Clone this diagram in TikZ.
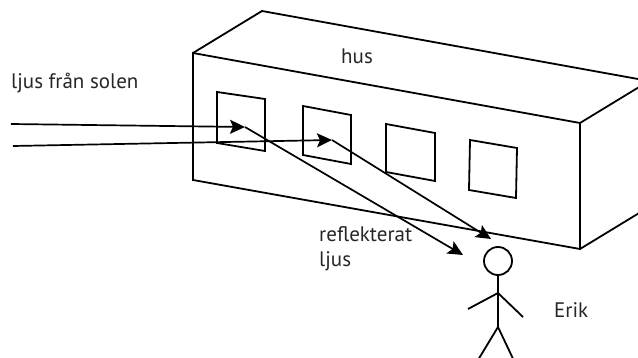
\documentclass[tikz,border=0pt]{standalone}
\usepackage{fontspec}
\setmainfont{PT Sans}
\usepackage{tikz}
\usetikzlibrary{arrows.meta}
\tikzstyle{wall} = [line width=1.8pt, line join=miter]
\tikzstyle{window} = [line width=1.8pt]
\tikzstyle{ray} = [line width=1.7pt, -{Stealth[length=15pt, width=14pt, inset=3pt]}]
\tikzstyle{person} = [line width=1.8pt]
\tikzstyle{caption} = [anchor=base west, inner sep=0pt, font=\fontsize{21}{24}\selectfont, text=black!85]

\begin{document}
\begin{tikzpicture}[x=1pt, y=-1pt]
        \useasboundingbox (0,0) rectangle (638,358);
        \clip (0,0) rectangle (638,358);

        % the house
        \draw [wall] (193,180) -- (193,53) -- (580,123) -- (580,249) -- cycle;
        \draw [wall] (193,53) -- (262,11) -- (649,81) -- (580,123);
        \draw [wall] (580,249) -- (649,207) -- (649,81);

        % windows
        \draw [window] (217,92) -- (265,99) -- (265,151) -- (217,143) -- cycle;
        \draw [window] (303,106) -- (351,115) -- (351,164) -- (303,155) -- cycle;
        \draw [window] (386,124) -- (435,133) -- (435,181) -- (386,172) -- cycle;
        \draw [window] (470,140) -- (517,148) -- (516,198) -- (469,190) -- cycle;

        % Erik
        \node (head) [person, draw, circle, minimum size=28pt, inner sep=0pt] at (498,261) {};
        \coordinate (shoulder) at (498,293);
        \coordinate (hip) at (498,327);
        \draw [person] (head.south) -- (hip);
        \draw [person] (468,309) -- (shoulder) -- (523,317);
        \draw [person] (475,365) -- (hip) -- (516,365);

        % light rays
        \coordinate (sun1) at (11,124);
        \coordinate (sun2) at (13,146);
        \coordinate (hit1) at (245,127);
        \coordinate (hit2) at (332,140);
        \coordinate (eye1) at (463,255);
        \coordinate (eye2) at (491,239);
        \draw [ray] (sun1) -- (hit1);
        \draw [ray] (sun2) -- (hit2);
        \draw [ray] (hit1) -- (eye1);
        \draw [ray] (hit2) -- (eye2);

        % labels
        \node (sunlight) [caption] at (11,89) {ljus från solen};
        \node (house) [caption] at (341,64) {hus};
        \node (reflected) [caption] at (319,242) {reflekterat};
        \node (reflected2) [caption] at (319,267) {ljus};
        \node (erik) [caption] at (554,318) {Erik};
    \end{tikzpicture}
\end{document}
